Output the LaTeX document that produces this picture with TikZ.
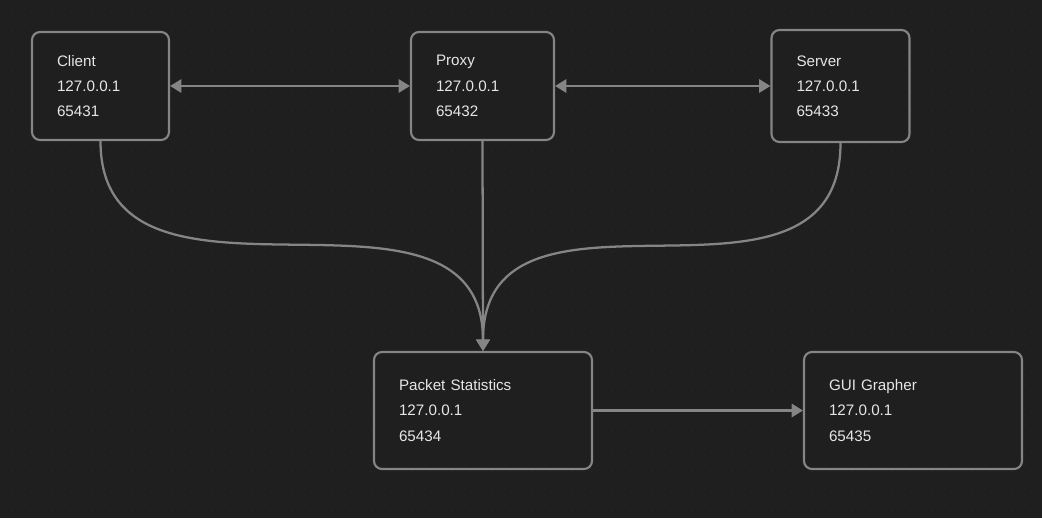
\documentclass[tikz,border=0pt]{standalone}
\usepackage{fontspec}
\setmainfont{Liberation Sans}
\usetikzlibrary{arrows.meta}
\definecolor{bgcol}{HTML}{1F1F1F}
\definecolor{gridcol}{HTML}{2E2E2E}
\definecolor{edgecol}{HTML}{858585}
\definecolor{txtcol}{HTML}{E6E6E6}
\tikzset{
  host/.style={draw=edgecol,line width=1.6pt,rounded corners=6pt,fill=bgcol,text=txtcol,align=left,inner xsep=18.75pt,inner ysep=0pt,font=\fontsize{11.4}{18.9}\selectfont},
  lowhost/.style={host,text width=168*.75pt,minimum height=117*.75pt},
  link/.style={draw=edgecol,line width=1.7pt,-{Triangle[length=8.5pt,width=10pt]}},
  duplex/.style={link,{Triangle[length=8.5pt,width=10pt]}-{Triangle[length=8.5pt,width=10pt]}}
}
\begin{document}
\begin{tikzpicture}[x=.75pt,y=.75pt]
\fill[bgcol](0,0)rectangle(1042,-518);
\foreach \i in {0,...,51}{\foreach \j in {0,...,25}{\fill[gridcol](11.7+20*\i,-11.7-20*\j)circle(.6);}}
\node[host,text width=87*.75pt,minimum height=108*.75pt](client)at(100.5,-86){Client\\127.0.0.1\\65431};
\node[host,text width=93*.75pt,minimum height=108*.75pt](proxy)at(482.5,-86){Proxy\\127.0.0.1\\65432};
\node[host,text width=88*.75pt,minimum height=112*.75pt](server)at(840.5,-86){Server\\127.0.0.1\\65433};
\node[lowhost](stats)at(483,-410.5){Packet Statistics\\127.0.0.1\\65434};
\node[lowhost](gui)at(913,-410.5){GUI Grapher\\127.0.0.1\\65435};
\draw[duplex](client)--(proxy);\draw[duplex](proxy)--(server);
\draw[link](client.south)..controls +(0,-200) and +(0,200)..(stats.north);
\draw[link](proxy.south)--(stats.north);
\draw[link](server.south)..controls +(0,-198) and +(0,198)..(stats.north);
\draw[link](stats)--(gui);
\end{tikzpicture}
\end{document}
